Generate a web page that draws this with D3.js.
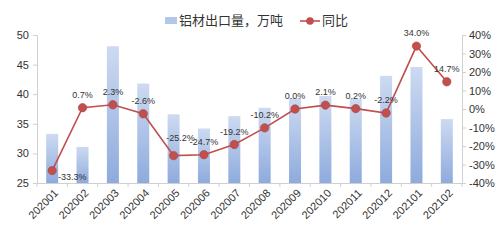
<!DOCTYPE html>
<html>
<head>
<meta charset="utf-8">
<script src="https://cdn.jsdelivr.net/npm/d3@7"></script>
<style>
  body { margin: 0; background: #fff; }
  text { font-family: "Liberation Sans", Arial, sans-serif; }
</style>
</head>
<body>
<script>
// categories and values
var months = ["202001","202002","202003","202004","202005","202006","202007",
              "202008","202009","202010","202011","202012","202101","202102"];
var exportVol = [33.3, 31.1, 48.1, 41.8, 36.6, 34.2, 36.3, 37.7, 39.3, 39.7, 39.2, 43.1, 44.6, 35.8];
var yoy = [-33.3, 0.7, 2.3, -2.6, -25.2, -24.7, -19.2, -10.2, 0.0, 2.1, 0.2, -2.2, 34.0, 14.7];
var leftTicks = [25, 30, 35, 40, 45, 50];
var rightTicks = [-40, -30, -20, -10, 0, 10, 20, 30, 40];

var width = 500, height = 247;
var plotLeft = 37, plotRight = 462, plotTop = 35, plotBottom = 183;

var svg = d3.select("body").append("svg")
  .attr("width", width)
  .attr("height", height);

var defs = svg.append("defs");
var grad = defs.append("linearGradient")
  .attr("id", "barGrad")
  .attr("x1", 0).attr("y1", 0).attr("x2", 0).attr("y2", 1);
grad.append("stop").attr("offset", "0%").attr("stop-color", "#cddaf1");
grad.append("stop").attr("offset", "100%").attr("stop-color", "#8eabdd");

var xc = d3.scaleBand().domain(months).range([plotLeft, plotRight]);
var yL = d3.scaleLinear().domain([25, 50]).range([plotBottom, plotTop]);
var yR = d3.scaleLinear().domain([-40, 40]).range([plotBottom, plotTop]);

function cx(i) { return xc(months[i]) + xc.bandwidth() / 2; }

// bars
svg.selectAll("rect.bar")
  .data(exportVol)
  .enter()
  .append("rect")
    .attr("class", "bar")
    .attr("x", function (d, i) { return cx(i) - 6; })
    .attr("width", 12)
    .attr("y", function (d) { return yL(d); })
    .attr("height", function (d) { return plotBottom - yL(d); })
    .attr("fill", "url(#barGrad)");

// axes
var axisColor = "#d0d0d0";
var gL = svg.append("g")
  .attr("transform", "translate(" + plotLeft + ",0)")
  .call(d3.axisLeft(yL).tickValues(leftTicks).tickSize(4).tickPadding(4));
var gR = svg.append("g")
  .attr("transform", "translate(" + plotRight + ",0)")
  .call(d3.axisRight(yR).tickValues(rightTicks).tickSize(4).tickPadding(3)
    .tickFormat(function (d) { return d + "%"; }));
var gB = svg.append("g")
  .attr("transform", "translate(0," + plotBottom + ")")
  .call(d3.axisBottom(xc).tickSize(0).tickPadding(0).tickSizeOuter(0));

// category separator ticks on the bottom axis
svg.selectAll("line.sep")
  .data(d3.range(months.length + 1))
  .enter()
  .append("line")
    .attr("x1", function (i) { return plotLeft + i * xc.step(); })
    .attr("x2", function (i) { return plotLeft + i * xc.step(); })
    .attr("y1", plotBottom)
    .attr("y2", plotBottom + 4)
    .attr("stroke", axisColor);

[gL, gR, gB].forEach(function (g) {
  g.selectAll("path, line").attr("stroke", axisColor);
  g.selectAll("text").attr("fill", "#333").style("font-size", "11px");
});

gB.selectAll("text")
  .attr("text-anchor", "end")
  .attr("dy", "0.35em")
  .attr("transform", "translate(4,8) rotate(-45)");

// yoy line
var line = d3.line()
  .x(function (d, i) { return cx(i); })
  .y(function (d) { return yR(d); });

svg.append("path")
  .datum(yoy)
  .attr("d", line)
  .attr("fill", "none")
  .attr("stroke", "#c0504d")
  .attr("stroke-width", 1.6);

svg.selectAll("circle.pt")
  .data(yoy)
  .enter()
  .append("circle")
    .attr("class", "pt")
    .attr("cx", function (d, i) { return cx(i); })
    .attr("cy", function (d) { return yR(d); })
    .attr("r", 4.2)
    .attr("fill", "#c0504d")
    .attr("stroke", "#b2403d")
    .attr("stroke-width", 0.6);

// data labels
svg.selectAll("text.lbl")
  .data(yoy)
  .enter()
  .append("text")
    .attr("class", "lbl")
    .attr("x", function (d, i) {
      if (i === 0) return cx(i) + 20;
      if (i === 4) return cx(i) + 7;
      return cx(i);
    })
    .attr("y", function (d, i) {
      var y = yR(d);
      if (i === 0) return y + 9;
      if (i === 4) return y - 15;
      return y - 10;
    })
    .attr("text-anchor", "middle")
    .attr("fill", "#333")
    .style("font-size", "9px")
    .text(function (d) { return d.toFixed(1) + "%"; });

// legend
var cjk = "'Noto Sans CJK SC', sans-serif";
var lg = svg.append("g");
lg.append("rect")
  .attr("x", 165).attr("y", 17).attr("width", 12).attr("height", 7)
  .attr("fill", "#b3c7ea");
lg.append("text")
  .attr("x", 179).attr("y", 25)
  .attr("fill", "#333")
  .style("font-size", "13px")
  .style("font-family", cjk)
  .text("铝材出口量，万吨");
lg.append("line")
  .attr("x1", 300).attr("x2", 320).attr("y1", 21).attr("y2", 21)
  .attr("stroke", "#c0504d").attr("stroke-width", 1.6);
lg.append("circle")
  .attr("cx", 310).attr("cy", 21).attr("r", 3.8)
  .attr("fill", "#c0504d");
lg.append("text")
  .attr("x", 322).attr("y", 25)
  .attr("fill", "#333")
  .style("font-size", "13px")
  .style("font-family", cjk)
  .text("同比");
</script>
</body>
</html>
